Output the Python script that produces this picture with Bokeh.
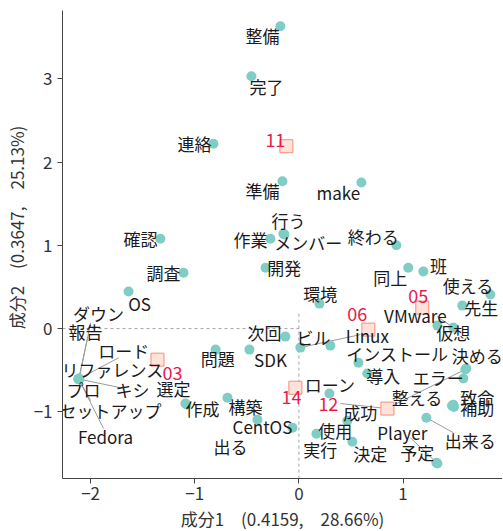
import math
from bokeh.plotting import figure
from bokeh.models import ColumnDataSource, FixedTicker
from bokeh.core.properties import value
from bokeh.embed import file_html
from bokeh.resources import INLINE

# ---- data: words (column coordinates) ----
words = ["整備", "完了", "連絡", "準備", "make", "行う", "メンバー", "作業", "終わる", "開発",
         "確認", "調査", "OS", "環境", "同上", "班", "使える", "先生", "VMware", "仮想",
         "決める", "エラー", "致命", "補助", "整える", "出来る", "予定", "Player", "決定", "実行",
         "使用", "成功", "インストール", "導入", "Linux", "ビル", "次回", "SDK", "問題", "ローン",
         "構築", "選定", "作成", "CentOS", "出る",
         "ダウン", "報告", "ロード", "リファレンス", "プロ", "キシ", "セットアップ", "Fedora"]
word_x = [-0.178, -0.456, -0.821, -0.158, 0.600, -0.149, -0.139, -0.274, 0.936, -0.320,
          -1.330, -1.108, -1.636, 0.197, 1.050, 1.195, 1.838, 1.569, 1.483, 1.330,
          1.607, 1.579, 1.483, 1.490, 1.470, 1.224, 1.320, 1.330, 0.513, 0.168,
          0.465, 1.598, 0.571, 0.657, 0.014, 0.302, -0.130, -0.475, -0.800, 0.293,
          -0.686, -1.090, -1.080, -0.062, -0.398,
          -2.110, -2.115, -2.112, -2.118, -2.113, -2.110, -2.116, -2.114]
word_y = [3.63, 3.03, 2.22, 1.77, 1.755, 1.14, 1.13, 1.08, 1.00, 0.73,
          1.08, 0.67, 0.445, 0.30, 0.73, 0.685, 0.41, 0.276, 0.012, 0.036,
          -0.48, -0.60, -0.913, -0.94, -0.926, -1.07, -1.61, -1.62, -1.358, -1.262,
          -1.106, -0.49, -0.41, -0.54, -0.228, -0.204, -0.096, -0.252, -0.252, -0.78,
          -0.83, -0.90, -0.91, -1.19, -1.094,
          -0.600, -0.605, -0.602, -0.608, -0.604, -0.606, -0.603, -0.607]
# label positions (repelled layout)
label_x = [-0.35, -0.312, -1.003, -0.35, 0.379, -0.10, 0.09, -0.465, 0.715, -0.14,
           -1.52, -1.30, -1.53, 0.206, 0.878, 1.34, 1.627, 1.75, 1.118, 1.483,
           1.713, 1.339, 1.713, 1.713, 1.137, 1.646, 1.137, 0.993, 0.686, 0.206,
           0.35, 0.59, 0.945, 0.81, 0.657, 0.139, -0.33, -0.273, -0.78, 0.302,
           -0.513, -1.204, -0.926, -0.35, -0.657,
           -1.924, -2.048, -1.683, -1.79, -2.068, -1.597, -1.81, -1.857]
label_y = [3.52, 2.91, 2.22, 1.66, 1.635, 1.30, 1.03, 1.07, 1.11, 0.73,
           1.08, 0.67, 0.30, 0.42, 0.61, 0.757, 0.517, 0.25, 0.156, -0.05,
           -0.325, -0.59, -0.83, -0.95, -0.83, -1.346, -1.49, -1.25, -1.50, -1.454,
           -1.226, -1.01, -0.30, -0.565, -0.084, -0.108, -0.048, -0.373, -0.36, -0.673,
           -0.94, -0.72, -0.96, -1.18, -1.418,
           0.18, -0.036, -0.264, -0.49, -0.73, -0.733, -0.985, -1.30]

# leader segments (word -> end near its label)
seg_words = ["VMware", "出来る", "Player", "成功", "Linux", "ダウン", "報告", "ロード",
             "キシ", "セットアップ", "Fedora"]
seg_end_x = [1.329, 1.483, 1.070, 0.897, 0.590, -2.000, -2.030, -1.730, -1.713, -2.000, -1.876]
seg_end_y = [0.144, -1.250, -1.310, -0.925, -0.072, 0.072, -0.120, -0.350, -0.710, -0.865, -1.200]

# ---- data: documents (row coordinates) ----
docs = ["11", "05", "06", "03", "14", "12"]
doc_x = [-0.12, 1.185, 0.667, -1.358, -0.034, 0.850]
doc_y = [2.19, 0.252, -0.012, -0.373, -0.71, -0.96]
doc_label_x = [-0.226, 1.147, 0.561, -1.214, -0.072, 0.283]
doc_label_y = [2.26, 0.397, 0.18, -0.53, -0.82, -0.91]
doc_seg = ["12"]
doc_seg_end_x = [0.398]
doc_seg_end_y = [-0.90]

x_ticks = [-2, -1, 0, 1]
y_ticks = [-1, 0, 1, 2, 3]
x_title = "成分1\u3000(0.4159,\u300028.66%)"
y_title = "\u3000\u3000成分2\u3000(0.3647,\u300025.13%)"

FONT = "Noto Sans CJK JP"
X_RANGE = (-2.27, 1.955)
Y_RANGE = (-1.80, 3.82)

p = figure(frame_width=440, frame_height=468, x_range=X_RANGE, y_range=Y_RANGE,
           output_backend="svg", toolbar_location=None,
           min_border_left=62, min_border_right=0, min_border_top=10, min_border_bottom=48)
p.outline_line_color = None
p.grid.visible = False
p.background_fill_color = "white"

for ax in (p.xaxis, p.yaxis):
    ax.axis_line_color = "#444444"
    ax.major_tick_line_color = "#444444"
    ax.major_tick_in = 0
    ax.major_tick_out = 5
    ax.minor_tick_line_color = None
    ax.major_label_text_font = FONT
    ax.major_label_text_font_size = "17px"
    ax.major_label_text_color = "#333333"
    ax.axis_label_text_font = FONT
    ax.axis_label_text_font_size = "17px"
    ax.axis_label_text_font_style = "normal"
    ax.axis_label_text_color = "#333333"
p.xaxis.ticker = FixedTicker(ticks=x_ticks)
p.yaxis.ticker = FixedTicker(ticks=y_ticks)
p.xaxis.major_label_standoff = 3
p.yaxis.major_label_standoff = 5
p.xaxis.axis_label = x_title
p.xaxis.axis_label_standoff = 3
p.yaxis.axis_label = y_title
p.yaxis.axis_label_standoff = 2

# origin reference lines (dashed)
p.segment(x0=[X_RANGE[0]], y0=[0], x1=[0], y1=[0], line_color="#8a8a8a",
          line_width=0.8, line_dash="3 3")
p.segment(x0=[0], y0=[0.18], x1=[0], y1=[Y_RANGE[0]], line_color="#8a8a8a",
          line_width=0.8, line_dash="3 3")

# leader segments
idx = {w: i for i, w in enumerate(words)}
p.segment(x0=[word_x[idx[w]] for w in seg_words], y0=[word_y[idx[w]] for w in seg_words],
          x1=seg_end_x, y1=seg_end_y, line_color="#9a9a9a", line_width=1)
didx = {d: i for i, d in enumerate(docs)}
p.segment(x0=[doc_x[didx[d]] for d in doc_seg], y0=[doc_y[didx[d]] for d in doc_seg],
          x1=doc_seg_end_x, y1=doc_seg_end_y, line_color="#9a9a9a", line_width=1)

wsrc = ColumnDataSource(dict(x=word_x, y=word_y, lx=label_x, ly=label_y, t=words))
p.scatter("x", "y", source=wsrc, size=10, fill_color="#7fcdc4", line_color=None)

dsrc = ColumnDataSource(dict(x=doc_x, y=doc_y, lx=doc_label_x, ly=doc_label_y, t=docs))
p.scatter("x", "y", source=dsrc, marker="square", size=13, fill_color="#ffe2da",
          line_color="#f98c76", line_width=1)

p.text("lx", "ly", text="t", source=wsrc, text_font=value(FONT), text_font_size="17px",
       text_color="#1a1a1a", text_align="center", text_baseline="middle")
p.text("lx", "ly", text="t", source=dsrc, text_font=value(FONT), text_font_size="18px",
       text_color="#e8194b", text_align="center", text_baseline="middle")

open("out.html", "w").write(file_html(p, INLINE))
